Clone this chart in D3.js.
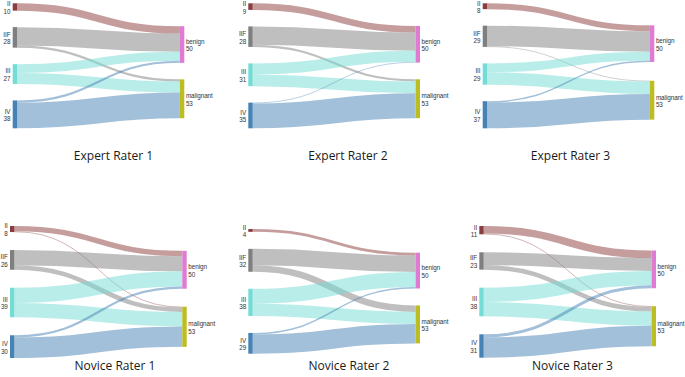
<!DOCTYPE html>
<html><head><meta charset="utf-8">
<script src="https://cdn.jsdelivr.net/npm/d3@7"></script>
<style>html,body{margin:0;padding:0;background:#fff;}svg{display:block;}</style>
</head><body>
<svg id="chart" width="685" height="377"></svg>
<script>
// ---- data ----
const panelTitles = ["Expert Rater 1","Expert Rater 2","Expert Rater 3","Novice Rater 1","Novice Rater 2","Novice Rater 3"];
const sourceNames = ["II","IIF","III","IV"];
const targetNames = ["benign","malignant"];
// values per panel, in order of sourceNames
const toBenign    = [[10,25,12,3],[9,25,15,1],[8,28,12,2],[7,20,20,3],[4,23,21,2],[10,17,19,4]];
const toMalignant = [[0,3,15,35],[0,3,16,34],[0,1,17,35],[1,6,19,27],[0,9,17,27],[1,6,19,27]];

// ---- styles / layout ----
const sourceColors = ["#8b3c3c","#7f7f7f","#74dcd4","#4682b4"];
const targetColors = ["#df7bd3","#bcbd22"];
const layout = [
  {x0:12.7, x1:184.3, y0:3.3, y1:128.3, pad:16.5, tx:113.5, ty:156},
  {x0:248.3,x1:420,   y0:3.3, y1:128.3, pad:16.5, tx:348,   ty:156},
  {x0:482.7,x1:654.3, y0:3.3, y1:128.3, pad:16.5, tx:570.5, ty:156},
  {x0:10,   x1:186.7, y0:226, y1:358,   pad:18,   tx:115,   ty:366},
  {x0:248.3,x1:420,   y0:229, y1:353.7, pad:17,   tx:349,   ty:366},
  {x0:479.3,x1:656,   y0:226, y1:357.7, pad:18,   tx:572.5, ty:366}
];
const nodeW = 4.4;
const titleFont = "'Open Sans', 'Noto Sans', sans-serif";
const labelFont = "'Liberation Sans', Arial, sans-serif";
const labelSize = 6.3;

const svg = d3.select("#chart");

panelTitles.forEach((title, p) => {
  const L = layout[p];
  const g = svg.append("g");
  const srcVals = sourceNames.map((_, i) => toBenign[p][i] + toMalignant[p][i]);
  const total = d3.sum(srcVals);
  const hScale = d3.scaleLinear().domain([0, total]).range([0, (L.y1 - L.y0) - L.pad * (sourceNames.length - 1)]);
  const xCol = d3.scaleLinear().domain([0, 1]).range([L.x0, L.x1 - nodeW]);

  // source nodes
  let y = L.y0;
  const srcNodes = sourceNames.map((name, i) => {
    const h = hScale(srcVals[i]);
    const n = {name, value: srcVals[i], x: xCol(0), y0: y, y1: y + h, color: sourceColors[i]};
    y += h + L.pad;
    return n;
  });

  // links
  const links = [];
  sourceNames.forEach((_, i) => {
    links.push({s: i, t: 0, value: toBenign[p][i]});
    links.push({s: i, t: 1, value: toMalignant[p][i]});
  });

  // target nodes: centre at weighted mean of source centres, then resolve collisions
  const tgtVals = [d3.sum(toBenign[p]), d3.sum(toMalignant[p])];
  const tgtNodes = targetNames.map((name, j) => {
    const ls = links.filter(l => l.t === j && l.value > 0);
    const c = d3.sum(ls, l => l.value * (srcNodes[l.s].y0 + srcNodes[l.s].y1) / 2) / d3.sum(ls, l => l.value);
    const h = hScale(tgtVals[j]);
    return {name, value: tgtVals[j], x: xCol(1), y0: c - h / 2, y1: c + h / 2, color: targetColors[j]};
  });
  const overlap = tgtNodes[0].y1 + L.pad - tgtNodes[1].y0;
  if (overlap > 0) {
    tgtNodes[0].y0 -= overlap / 2; tgtNodes[0].y1 -= overlap / 2;
    tgtNodes[1].y0 += overlap / 2; tgtNodes[1].y1 += overlap / 2;
  }

  // link offsets
  const sOff = srcNodes.map(n => n.y0);
  const tOff = tgtNodes.map(n => n.y0);
  links.forEach(l => {
    const w = hScale(l.value);
    l.w = w;
    l.ys = sOff[l.s] + w / 2; sOff[l.s] += w;
  });
  // at targets, order by source position
  tgtNodes.forEach((tn, j) => {
    links.filter(l => l.t === j).sort((a, b) => a.s - b.s).forEach(l => {
      l.yt = tOff[j] + l.w / 2; tOff[j] += l.w;
    });
  });

  const linkGen = d3.linkHorizontal();
  g.append("g").selectAll("path").data(links.filter(l => l.value > 0)).join("path")
    .attr("d", l => linkGen({source: [srcNodes[l.s].x + nodeW, l.ys], target: [tgtNodes[l.t].x, l.yt]}))
    .attr("fill", "none")
    .attr("stroke", l => sourceColors[l.s])
    .attr("stroke-opacity", 0.5)
    .attr("stroke-width", l => Math.max(0.5, l.w));

  const allNodes = srcNodes.map(n => ({...n, side: 0})).concat(tgtNodes.map(n => ({...n, side: 1})));
  g.append("g").selectAll("rect").data(allNodes).join("rect")
    .attr("x", d => d.x).attr("y", d => d.y0)
    .attr("width", nodeW).attr("height", d => Math.max(1, d.y1 - d.y0))
    .attr("fill", d => d.color);

  const labX = d => d.side === 0 ? d.x - 2.2 : d.x + nodeW + 1.6;
  const labG = g.append("g").attr("font-family", labelFont).attr("font-size", labelSize)
    .attr("letter-spacing", "-0.05px").attr("fill", "#333");
  // name line
  labG.selectAll("text.nm").data(allNodes).join("text").attr("class", "nm")
    .attr("text-anchor", d => d.side === 0 ? "end" : "start")
    .attr("x", labX).attr("y", d => (d.y0 + d.y1) / 2 - 0.6)
    .text(d => d.name);
  // value line
  labG.selectAll("text.vl").data(allNodes).join("text").attr("class", "vl")
    .attr("text-anchor", d => d.side === 0 ? "end" : "start")
    .attr("x", labX).attr("y", d => (d.y0 + d.y1) / 2 + labelSize * 1.2 - 0.6)
    .text(d => d.value);

  svg.append("text").attr("x", L.tx).attr("y", L.ty).attr("dy", "0.35em")
    .attr("text-anchor", "middle").attr("font-family", titleFont).attr("font-size", 12)
    .attr("fill", "#1a1a1a").text(title);
});
</script>
</body></html>
